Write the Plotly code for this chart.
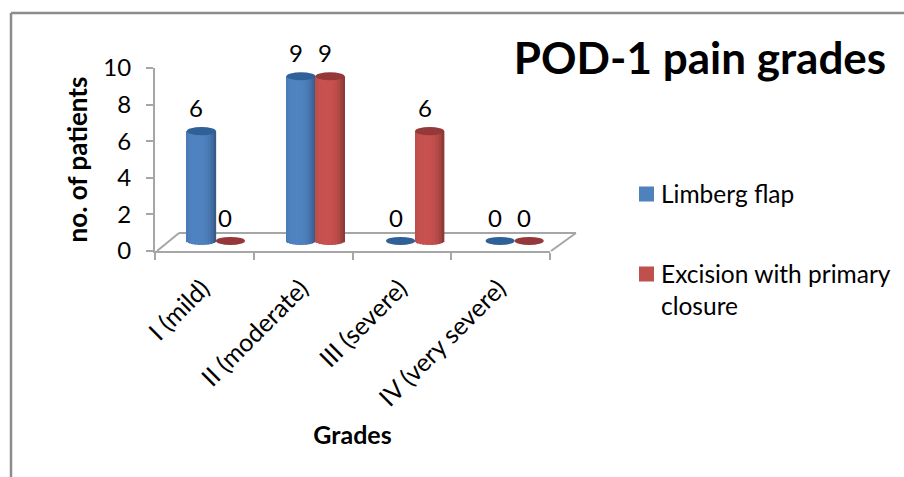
import math
import plotly.graph_objects as go

categories = ["I (mild)", "II (moderate)", "III (severe)", "IV (very severe)"]
limberg_flap = [6, 9, 0, 0]
primary_closure = [0, 9, 6, 0]
series_names = ["Limberg flap", "Excision with primary<br>closure"]

W, H = 904, 477
L, R, T, B = 155, 550, 68, 251  # plot area in pixels
FONT = "Lato"
GRAY = "#a6a6a6"

def px(x):
    return (x - L) / (R - L)

def py(y):
    return (B - y) / (B - T)

# Bars live on a second pair of axes, shifted to mimic the 3D depth offset
x2_range = [-0.612, 3.355]
y2_range = [-0.55, 9.45]
half = 0.146          # cylinder half width, category units
cap_h = 0.22          # ellipse half height, value units
N = 20

series = [
    (limberg_flap, -half, (0x4f, 0x83, 0xc2), "#2f6098"),
    (primary_closure, half, (0xc8, 0x52, 0x4f), "#95383a"),
]

fig = go.Figure()
# carrier for the category axis
fig.add_trace(go.Scatter(x=categories, y=[0, 0, 0, 0], mode="none", showlegend=False, hoverinfo="skip"))

shapes = []
annotations = []
for values, shift, rgb, cap in series:
    for k in range(N):
        t0 = -1 + 2 * k / N
        tc = t0 + 1 / N
        edge = abs(tc + 0.25) / 1.25
        f = 1 - 0.33 * edge ** 3
        col = "rgb(%d,%d,%d)" % tuple(int(c * f) for c in rgb)
        drop = cap_h * math.sqrt(max(0, 1 - tc * tc))
        nz = [i for i, v in enumerate(values) if v > 0]
        fig.add_trace(go.Bar(
            x=nz,
            y=[values[i] + drop for i in nz],
            base=[-drop for _ in nz],
            offset=shift + t0 * half,
            width=2 * half / N * 1.15,
            marker=dict(color=col, line=dict(width=0)),
            xaxis="x2", yaxis="y2", showlegend=False, hoverinfo="skip",
        ))
    for i, v in enumerate(values):
        cx = i + shift
        shapes.append(dict(type="circle", xref="x2", yref="y2", layer="above",
                           x0=cx - half, x1=cx + half, y0=v - cap_h, y1=v + cap_h,
                           fillcolor=cap, line=dict(width=0)))
        annotations.append(dict(xref="x2", yref="y2", x=cx, y=v, text=str(v), showarrow=False,
                                xshift=-5, yshift=23.5, font=dict(family=FONT, size=24, color="#000")))

# chart frame
for x0, y0, x1, y1 in [(11, 13, 904, 13), (11, 13, 11, 477)]:
    shapes.append(dict(type="line", xref="paper", yref="paper", layer="below",
                       x0=px(x0), y0=py(y0), x1=px(x1), y1=py(y1),
                       line=dict(color="#8c8c8c", width=2.5)))
# floor
for x0, y0, x1, y1 in [(157, 251, 179, 233), (179, 233, 576, 233), (576, 233, 551, 251)]:
    shapes.append(dict(type="line", xref="paper", yref="paper", layer="below",
                       x0=px(x0), y0=py(y0), x1=px(x1), y1=py(y1),
                       line=dict(color=GRAY, width=2)))

# legend
legend_rows = [(194, series_names[0], "#4f81bd"), (274, series_names[1], "#c0504d")]
for y, name, col in legend_rows:
    shapes.append(dict(type="rect", xref="paper", yref="paper",
                       x0=px(639), x1=px(654), y0=py(y - 7.5), y1=py(y + 7.5),
                       fillcolor=col, line=dict(width=0)))
    annotations.append(dict(xref="paper", yref="paper", x=px(659), y=py(y - 17.5), xanchor="left", yanchor="top",
                            align="left", text=name, showarrow=False,
                            font=dict(family=FONT, size=24.5, color="#000")))

fig.update_layout(
    width=W, height=H, autosize=False,
    margin=dict(l=L, r=W - R, t=T, b=H - B),
    paper_bgcolor="white", plot_bgcolor="rgba(0,0,0,0)",
    barmode="overlay", showlegend=False,
    shapes=shapes, annotations=annotations,
    title=dict(text="<b>POD-1 pain grades</b>", x=700 / W, y=1 - 59 / H, xanchor="center", yanchor="middle",
               font=dict(family=FONT, size=44, color="#000")),
    xaxis=dict(type="category", categoryorder="array", categoryarray=categories, range=[-0.5, 3.5],
               tickson="boundaries", ticks="outside", ticklen=7, tickcolor=GRAY, tickwidth=2,
               showline=True, linecolor=GRAY, linewidth=2, showgrid=False, zeroline=False,
               tickangle=-45, ticklabelshift=-2, ticklabelstandoff=11,
               tickfont=dict(family=FONT, size=25, color="#000"),
               title=dict(text="<b>Grades</b>", standoff=16, font=dict(family=FONT, size=25, color="#000"))),
    yaxis=dict(range=[0, 10], tickvals=[0, 2, 4, 6, 8, 10], ticks="outside", ticklen=7, tickcolor=GRAY, tickwidth=2,
               showline=True, linecolor=GRAY, linewidth=2, showgrid=False, zeroline=False,
               ticklabelstandoff=10, tickfont=dict(family=FONT, size=24, color="#000"),
               title=dict(text="<b>no. of patients</b>", standoff=8, font=dict(family=FONT, size=26, color="#000"))),
    xaxis2=dict(overlaying="x", anchor="y2", range=x2_range, visible=False),
    yaxis2=dict(overlaying="y", anchor="x2", range=y2_range, visible=False),
)
fig.write_html("out.html", config=dict(displayModeBar=False),
               post_script="document.body.style.margin='0';document.body.style.overflow='hidden';")
